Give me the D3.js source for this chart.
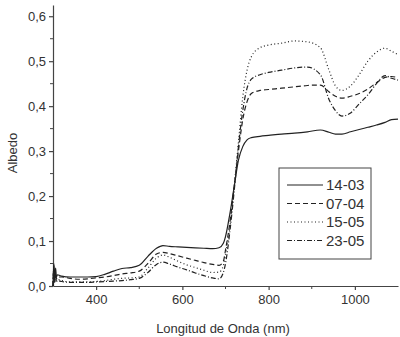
<!DOCTYPE html>
<html>
<head>
<meta charset="utf-8">
<script src="https://cdn.jsdelivr.net/npm/d3@7"></script>
<style>
  body { margin: 0; background: #fff; }
  text { font-family: "Liberation Sans", Arial, sans-serif; fill: #333; }
</style>
</head>
<body>
<svg id="chart" width="400" height="337"></svg>
<script>
// wavelength grid (nm)
var wavelength = [300,302,304,306,308,310,320,340,360,380,400,420,440,460,480,500,520,540,555,570,590,
  610,630,650,670,685,695,700,710,720,730,740,750,760,780,800,830,860,890,920,940,955,970,990,1010,1030,
  1050,1070,1085,1100]

var albedo1403 = [0,0.05,0.015,0.04,0.02,0.025,0.022,0.02,0.02,0.02,0.021,0.026,0.033,0.039,0.041,0.046,
  0.066,0.084,0.09,0.088,0.087,0.086,0.085,0.084,0.083,0.085,0.095,0.11,0.16,0.22,0.28,0.31,0.325,0.33,
  0.333,0.335,0.338,0.34,0.343,0.347,0.342,0.338,0.338,0.343,0.348,0.353,0.358,0.364,0.37,0.371]

var albedo0704 = [0,0.045,0.01,0.03,0.015,0.02,0.02,0.017,0.015,0.016,0.018,0.02,0.023,0.027,0.029,0.033,
  0.05,0.071,0.075,0.072,0.067,0.062,0.057,0.052,0.048,0.046,0.055,0.08,0.14,0.22,0.30,0.37,0.41,0.428,
  0.435,0.437,0.44,0.443,0.446,0.447,0.432,0.422,0.418,0.422,0.428,0.438,0.452,0.464,0.466,0.463]

var albedo1505 = [0,0.04,0.008,0.025,0.012,0.015,0.012,0.009,0.009,0.009,0.01,0.012,0.015,0.017,0.018,0.02,
  0.04,0.062,0.069,0.064,0.055,0.047,0.041,0.035,0.03,0.031,0.045,0.07,0.13,0.22,0.32,0.42,0.48,0.51,
  0.53,0.536,0.54,0.545,0.543,0.53,0.48,0.445,0.435,0.445,0.47,0.5,0.52,0.529,0.522,0.515]

var albedo2305 = [0,0.04,0.008,0.025,0.01,0.012,0.01,0.008,0.008,0.008,0.009,0.01,0.011,0.012,0.014,0.017,
  0.03,0.048,0.053,0.049,0.042,0.036,0.029,0.023,0.018,0.016,0.03,0.05,0.12,0.21,0.31,0.39,0.44,0.46,
  0.47,0.475,0.48,0.485,0.487,0.47,0.415,0.39,0.378,0.385,0.405,0.425,0.45,0.468,0.462,0.458]

var seriesNames = ['14-03', '07-04', '15-05', '23-05']
var seriesDash = [null, '5,3', '1,2.5', '5,2,1,2']
var xTicks = [400, 600, 800, 1000]
var yTicks = [0, 0.1, 0.2, 0.3, 0.4, 0.5, 0.6]

var series = [albedo1403, albedo0704, albedo1505, albedo2305].map(function(vals, i) {
  return {
    name: seriesNames[i],
    dash: seriesDash[i],
    values: wavelength.map(function(w, j) { return { x: w, y: vals[j] } })
  }
})

var svg = d3.select('#chart')

var x = d3.scaleLinear().domain([300, 1100]).range([53, 398])
var y = d3.scaleLinear().domain([0, 0.625]).range([286, 5])

var fmt = function(d) { return d3.format('.1f')(d).replace('.', ',') }

// x axis
var xAxis = svg.append('g').attr('transform', 'translate(0,286)')
xAxis.call(d3.axisBottom(x).tickValues(xTicks).tickFormat(d3.format('d')).tickSize(4).tickSizeOuter(0).tickPadding(5))
xAxis.append('g').selectAll('line')
  .data([500, 700, 900])
  .enter().append('line')
  .attr('x1', function(d) { return x(d) }).attr('x2', function(d) { return x(d) })
  .attr('y1', 0).attr('y2', 3)
  .attr('stroke', '#444')

// y axis
var yAxis = svg.append('g').attr('transform', 'translate(53,0)')
yAxis.call(d3.axisLeft(y).tickValues(yTicks).tickFormat(fmt).tickSize(4).tickSizeOuter(0).tickPadding(3))
yAxis.append('g').selectAll('line')
  .data([0.05, 0.15, 0.25, 0.35, 0.45, 0.55])
  .enter().append('line')
  .attr('y1', function(d) { return y(d) }).attr('y2', function(d) { return y(d) })
  .attr('x1', 0).attr('x2', -3)
  .attr('stroke', '#444')

svg.selectAll('.domain, .tick line').attr('stroke', '#444').attr('stroke-width', 1.2)
svg.selectAll('.tick text').style('font-size', '13px').attr('fill', '#333')

// axis titles
svg.append('text')
  .attr('x', 223).attr('y', 333)
  .attr('text-anchor', 'middle')
  .style('font-size', '13px')
  .text('Longitud de Onda (nm)')

svg.append('text')
  .attr('transform', 'translate(17,153) rotate(-90)')
  .attr('text-anchor', 'middle')
  .style('font-size', '13px')
  .text('Albedo')

// lines
var line = d3.line()
  .x(function(d) { return x(d.x) })
  .y(function(d) { return y(d.y) })
  .curve(d3.curveMonotoneX)

svg.append('g').selectAll('path')
  .data(series)
  .enter().append('path')
  .attr('d', function(d) { return line(d.values) })
  .attr('fill', 'none')
  .attr('stroke', '#222')
  .attr('stroke-width', 1.2)
  .attr('stroke-dasharray', function(d) { return d.dash })

// legend
var legend = svg.append('g')
legend.append('rect')
  .attr('x', 279).attr('y', 168).attr('width', 92).attr('height', 91)
  .attr('fill', '#fff').attr('stroke', '#444').attr('stroke-width', 1)

var item = legend.selectAll('.item')
  .data(series)
  .enter().append('g')
  .attr('transform', function(d, i) { return 'translate(0,' + (185 + i * 18.5) + ')' })

item.append('line')
  .attr('x1', 287).attr('x2', 323)
  .attr('stroke', '#222').attr('stroke-width', 1.2)
  .attr('stroke-dasharray', function(d) { return d.dash })

item.append('text')
  .attr('x', 326).attr('dy', '0.36em')
  .style('font-size', '15px')
  .text(function(d) { return d.name })
</script>
</body>
</html>
